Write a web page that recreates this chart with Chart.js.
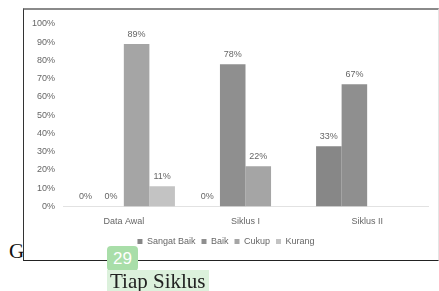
<!DOCTYPE html>
<html>
<head>
<meta charset="utf-8">
<script src="https://cdn.jsdelivr.net/npm/chart.js@4"></script>
<style>
  html, body { margin: 0; padding: 0; background: #fff; }
  body { width: 439px; height: 291px; position: relative; overflow: hidden; }
  .cap-g { position: absolute; left: 9px; top: 239px; font: 21px "Liberation Serif", serif; color: #111; z-index: 1; }
  .box { position: absolute; left: 23px; top: 8px; width: 414px; height: 250px; background: #fff;
         border-top: 2px solid #8a8a8a; border-left: 1px solid #333; border-bottom: 1px solid #222;
         border-right: 1px solid #e4e4e4; z-index: 2; }
  .page { position: absolute; left: 107px; top: 246px; width: 31px; height: 25px; border-radius: 4px;
          background: #a9dea9; color: #fff; font: 17px "Liberation Sans", sans-serif; text-align: center;
          line-height: 25px; z-index: 3; }
  .sub { position: absolute; left: 107px; top: 270px; padding: 0 3px; height: 23px; background: #dcf1dc;
         font: 21px "Liberation Serif", serif; color: #222; line-height: 23px; z-index: 3; }
</style>
</head>
<body>
<div class="cap-g">G</div>
<div class="box"><canvas id="chart" width="413" height="249"></canvas></div>
<div class="page">29</div>
<div class="sub">Tiap Siklus</div>
<script>
// data (percent)
var categories = ['Data Awal', 'Siklus I', 'Siklus II'];
var seriesNames = ['Sangat Baik', 'Baik', 'Cukup', 'Kurang'];
var sangatBaik = [0, 0, 33];
var baik = [0, 78, 67];
var cukup = [89, 22, null];
var kurang = [11, null, null];
var yTicks = [0, 10, 20, 30, 40, 50, 60, 70, 80, 90, 100];

var colors = ['#878787', '#8f8f8f', '#a5a5a5', '#c3c3c3'];
var allValues = [sangatBaik, baik, cukup, kurang];

var textColor = '#666';
var font = { family: '"Liberation Sans", Arial, sans-serif', size: 9 };

// value labels above bars
var valueLabels = {
    id: 'valueLabels',
    afterDatasetsDraw: function (chart) {
        var ctx = chart.ctx;
        ctx.save();
        ctx.font = font.size + 'px ' + font.family;
        ctx.fillStyle = textColor;
        ctx.textAlign = 'center';
        ctx.textBaseline = 'middle';
        chart.data.datasets.forEach(function (ds, i) {
            chart.getDatasetMeta(i).data.forEach(function (bar, j) {
                var v = ds.data[j];
                if (v === null) return;
                ctx.fillText(v + '%', bar.x, bar.y - 10);
            });
        });
        ctx.restore();
    }
};

var datasets = seriesNames.map(function (name, i) {
    return {
        label: name,
        data: allValues[i],
        backgroundColor: colors[i],
        borderWidth: 0,
        categoryPercentage: 0.84,
        barPercentage: 1
    };
});

new Chart(document.getElementById('chart').getContext('2d'), {
    type: 'bar',
    data: { labels: categories, datasets: datasets },
    plugins: [valueLabels],
    options: {
        responsive: false,
        animation: false,
        layout: { padding: { top: 14, right: 9, bottom: 3, left: 0 } },
        plugins: {
            tooltip: { enabled: false },
            legend: {
                position: 'bottom',
                labels: {
                    boxWidth: 5, boxHeight: 5, padding: 6,
                    color: textColor, font: font
                }
            }
        },
        scales: {
            x: {
                grid: { display: false, drawTicks: false },
                border: { display: true, color: '#e2e2e2', width: 1 },
                ticks: { color: textColor, font: font, padding: 10 },
                afterFit: function (scale) { scale.height = 24.6; }
            },
            y: {
                min: 0, max: 100,
                afterBuildTicks: function (scale) {
                    scale.ticks = yTicks.map(function (v) { return { value: v }; });
                },
                grid: { display: false, drawTicks: false },
                border: { display: false },
                ticks: {
                    color: textColor, font: font, padding: 8,
                    callback: function (v) { return v + '%'; }
                },
                afterFit: function (scale) { scale.width = 39; }
            }
        }
    }
});
</script>
</body>
</html>
